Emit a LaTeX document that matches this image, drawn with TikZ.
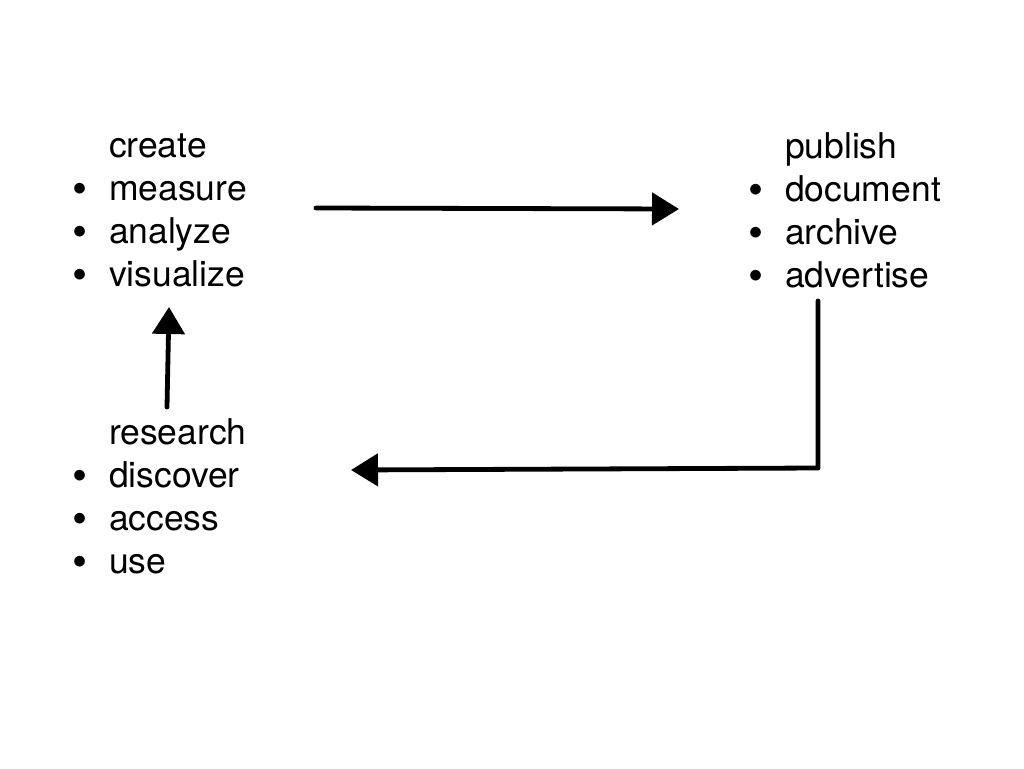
\documentclass[tikz,border=0pt]{standalone}
\usepackage{fontspec}
\setmainfont{TeX Gyre Heros}
\usetikzlibrary{arrows.meta}
\begin{document}
\begin{tikzpicture}[x=1pt,y=-1pt,
  lbl/.style={inner sep=0pt,outer sep=0pt,anchor=base west,font=\fontsize{35.5}{42}\selectfont},
  bul/.style={inner sep=0pt,outer sep=0pt,anchor=base,font=\fontsize{43}{48}\selectfont},
  sketch/.style={line width=4.8pt,black,line cap=round,line join=round,
    -{Triangle[length=27pt,width=32pt]}}]
\useasboundingbox[fill=white] (0,0) rectangle (1024,768);
% create group
\node[lbl] (c0) at (109,157) {create};
\node[bul] (cb1) at (80,203) {•};
\node[lbl] (c1) at (109,200) {measure};
\node[bul] (cb2) at (80,246) {•};
\node[lbl] (c2) at (109,243) {analyze};
\node[bul] (cb3) at (80,289) {•};
\node[lbl] (c3) at (109,286) {visualize};
% publish group
\node[lbl] (p0) at (785,158) {publish};
\node[bul] (pb1) at (756,204) {•};
\node[lbl] (p1) at (785,201) {document};
\node[bul] (pb2) at (756,247) {•};
\node[lbl] (p2) at (785,244) {archive};
\node[bul] (pb3) at (756,290) {•};
\node[lbl] (p3) at (785,287) {advertise};
% research group
\node[lbl] (r0) at (109,444) {research};
\node[bul] (rb1) at (80,490) {•};
\node[lbl] (r1) at (109,487) {discover};
\node[bul] (rb2) at (80,533) {•};
\node[lbl] (r2) at (109,530) {access};
\node[bul] (rb3) at (80,576) {•};
\node[lbl] (r3) at (109,573) {use};
% arrow endpoints
\coordinate (a1s) at (316,208);
\coordinate (a1e) at (679,209);
\coordinate (a2s) at (818,301);
\coordinate (a2m) at (818,468);
\coordinate (a2e) at (351,470);
\coordinate (a3s) at (167,407);
\coordinate (a3e) at (169,307);
\draw[sketch] (a1s) -- (a1e);
\draw[sketch] (a2s) -- (a2m) -- (a2e);
\draw[sketch] (a3s) -- (a3e);
\end{tikzpicture}
\end{document}
